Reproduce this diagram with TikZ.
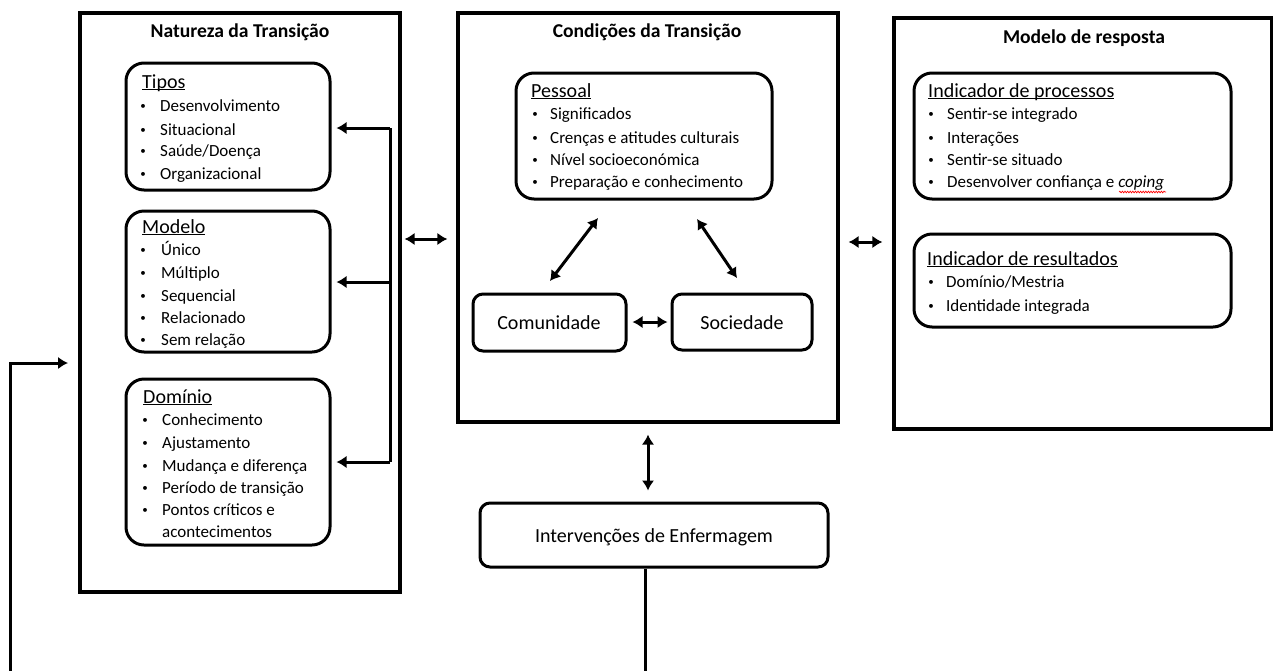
\documentclass[tikz,border=0pt]{standalone}
\usepackage{fontspec}
\setmainfont{Carlito}
\usetikzlibrary{arrows.meta,decorations.pathmorphing}
\newcounter{ln}
\newcommand\ul[1]{\setbox0\hbox{#1}\rlap{\rule[-2.3pt]{\wd0}{0.9pt}}\box0}
\newcommand\smbul{\raisebox{1.8pt}{\fontsize{11}{11}\selectfont\textbullet}}
\newcommand\bl[4]{\stepcounter{ln}\node[itm] (l\theln) at (#1,#3) {\makebox[0pt][c]{\smbul}\hspace{\dimexpr#2pt-#1pt\relax}#4};}
\newcommand\bx[6]{\node[#6, minimum width={#4-#2}, minimum height={#5-#3}] (#1) at ({(#2+#4)/2},{(#3+#5)/2}) {};}
\tikzset{
 outerbox/.style={draw, line width=3.2pt, inner sep=0pt},
 rbox/.style={draw, line width=3pt, rounded corners=18pt, inner sep=0pt},
 sbox/.style={draw, line width=3pt, rounded corners=10pt, inner sep=0pt},
 title/.style={anchor=base, inner sep=0pt, font=\bfseries\fontsize{19.6}{23}\selectfont},
 head/.style={anchor=base west, inner sep=0pt, font=\fontsize{20}{24}\selectfont},
 ctext/.style={anchor=base, inner sep=0pt, font=\fontsize{20}{24}\selectfont},
 itm/.style={anchor=base west, inner sep=0pt, font=\fontsize{17}{20}\selectfont},
 mytip/.tip={Latex[length=10pt,width=12.5pt]},
 arr/.style={line width=3pt, -mytip},
 darr/.style={line width=3pt, mytip-mytip},
}
\begin{document}
\begin{tikzpicture}[x=1pt,y=-1pt]
\useasboundingbox (0,0) rectangle (1274,670);
% outer boxes
\bx{nat}{80}{13}{400}{592}{outerbox}
\bx{cond}{458}{13}{838}{422}{outerbox}
\bx{resp}{894}{18}{1271.5}{429}{outerbox}
% inner boxes
\bx{tipos}{126}{63}{330}{190}{rbox}
\bx{modelo}{126}{211}{330}{352}{rbox}
\bx{dominio}{126}{379}{330}{545}{rbox}
\bx{pessoal}{516}{73}{772}{199}{rbox}
\bx{comun}{473}{294}{626}{351}{sbox}
\bx{socied}{672}{294}{812}{350}{sbox}
\bx{interv}{480}{503}{828}{567}{sbox}
\bx{proc}{914}{73}{1231}{199}{rbox}
\bx{result}{914}{234}{1231}{327}{rbox}
% titles
\node[title] (tnat) at (240,37) {Natureza da Transição};
\node[title] (tcond) at (647,37) {Condições da Transição};
\node[title] (tresp) at (1084,43) {Modelo de resposta};
% Tipos
\node[head] (htipos) at (142,88) {\ul{Tipos}};
\bl{143}{160}{111}{Desenvolvimento}
\bl{143}{160}{135}{Situacional}
\bl{143}{160}{156}{Saúde/Doença}
\bl{143}{160}{179}{Organizacional}
% Modelo
\node[head] (hmodelo) at (142,233) {\ul{Modelo}};
\bl{143}{161}{255}{Único}
\bl{143}{161}{278}{Múltiplo}
\bl{143}{161}{301}{Sequencial}
\bl{143}{161}{323}{Relacionado}
\bl{143}{161}{345}{Sem relação}
% Dominio
\node[head] (hdominio) at (143,403) {\ul{Domínio}};
\bl{145}{162}{425}{Conhecimento}
\bl{145}{162}{448}{Ajustamento}
\bl{145}{162}{471}{Mudança e diferença}
\bl{145}{162}{493}{Período de transição}
\bl{145}{162}{515}{Pontos críticos e}
\node[itm] (lacont) at (162,537) {acontecimentos};
% Pessoal
\node[head] (hpessoal) at (531,97) {\ul{Pessoal}};
\bl{535}{550}{119}{Significados}
\bl{535}{550}{143}{Crenças e atitudes culturais}
\bl{535}{550}{165}{Nível socioeconómica}
\bl{535}{550}{187}{Preparação e conhecimento}
% Comunidade / Sociedade / Intervencoes
\node[ctext] (tcomun) at (549,329) {Comunidade};
\node[ctext] (tsocied) at (742,329) {Sociedade};
\node[ctext] (tinterv) at (654,542) {Intervenções de Enfermagem};
% Indicador de processos
\node[head] (hproc) at (928,97) {\ul{Indicador de processos}};
\bl{931}{947}{119}{Sentir-se integrado}
\bl{931}{947}{143}{Interações}
\bl{931}{947}{165}{Sentir-se situado}
\bl{931}{947}{187}{Desenvolver confiança e \textit{coping}}
\draw[red, line width=0.7pt, decorate, decoration={snake, amplitude=0.8pt, segment length=2.6pt}] (1119,192) -- (1166,192);
% Indicador de resultados
\node[head] (hres) at (927,265) {\ul{Indicador de resultados}};
\bl{931}{946}{287}{Domínio/Mestria}
\bl{931}{946}{311}{Identidade integrada}
% connectors: vertical bus to three boxes
\coordinate (bt) at (390,128);
\coordinate (bm) at (390,282);
\coordinate (bb) at (390,462);
\draw[line width=3pt] (bt) -- (bb);
\draw[arr, shorten >=5pt] (bt) -- (tipos.east |- bt);
\draw[arr, shorten >=5pt] (bm) -- (modelo.east |- bm);
\draw[arr, shorten >=5pt] (bb) -- (dominio.east |- bb);
% between outer boxes
\coordinate (y1) at (0,239);
\coordinate (y2) at (0,242);
\draw[darr, shorten <=3pt, shorten >=9pt] (nat.east |- y1) -- (cond.west |- y1);
\draw[darr, shorten <=9pt, shorten >=10pt] (cond.east |- y2) -- (resp.west |- y2);
% inside conditions
\coordinate (pc1) at (598,218);
\coordinate (pc2) at (550,281);
\coordinate (ps1) at (697,219);
\coordinate (ps2) at (737,278);
\draw[darr] (pc1) -- (pc2);
\draw[darr] (ps1) -- (ps2);
\coordinate (y3) at (0,322);
\draw[darr, shorten <=5pt, shorten >=3pt] (comun.east |- y3) -- (socied.west |- y3);
% conditions to interventions
\coordinate (x4) at (648,0);
\draw[darr, shorten <=11pt, shorten >=11pt] (cond.south -| x4) -- (interv.north -| x4);
% feedback loop
\coordinate (x5) at (645,0);
\coordinate (fbl) at (10,672.4);
\coordinate (fbe) at (68,363);
\draw[arr] (interv.south -| x5) -- (x5 |- fbl) -- (fbl) -- (fbl |- fbe) -- (fbe);
\end{tikzpicture}
\end{document}
